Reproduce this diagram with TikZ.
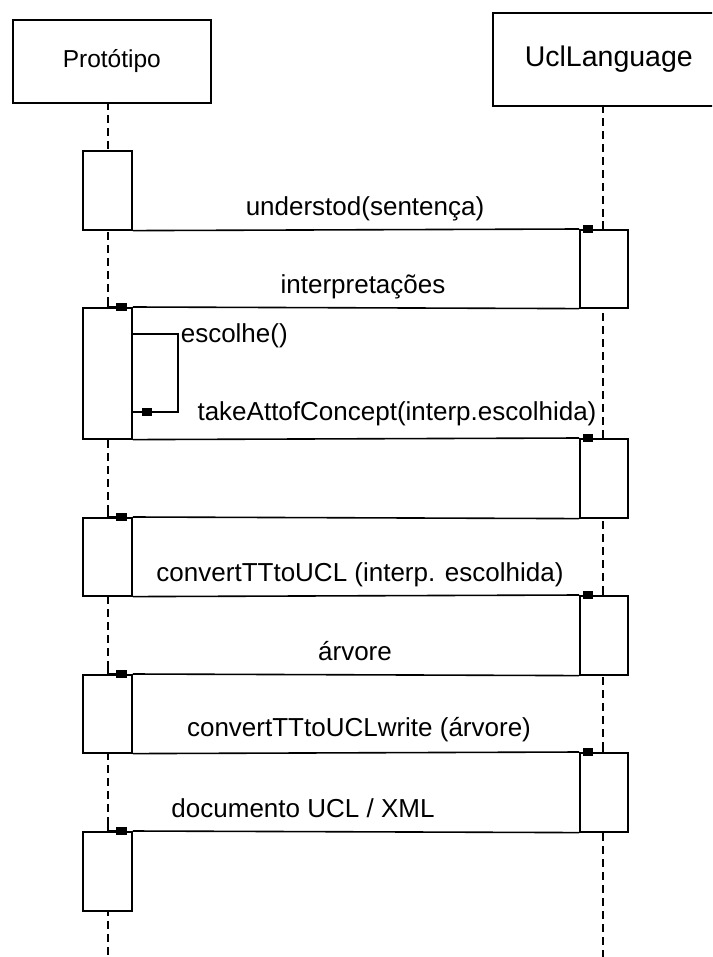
\documentclass[tikz,border=0pt]{standalone}
\usepackage{fontspec}
\setmainfont{Liberation Sans}
\begin{document}
\begin{tikzpicture}[x=1pt,y=-1pt,
  line width=1.6pt,
  head/.style={draw, fill=white, line width=1.6pt, inner sep=0pt},
  act/.style={draw, fill=white, line width=1.6pt, minimum width=49pt, inner sep=0pt, anchor=north},
  life/.style={line width=1.4pt, dash pattern=on 8pt off 5pt},
  msg/.style={line width=1.6pt},
  lbl/.style={font=\fontsize{26}{30}\selectfont, anchor=base, inner sep=0pt},
  hook/.style={line width=1.6pt}
]
\useasboundingbox (0,0) rectangle (712,957);
\clip (0,0) rectangle (712,957);
\fill[white] (0,0) rectangle (712,957);

% participants
\node[head, minimum width=198pt, minimum height=83pt, anchor=north west,
      font=\fontsize{24.5}{28}\selectfont] (proto) at (12,19) {Protótipo};
\node[head, minimum width=232pt, minimum height=93pt, anchor=north west,
      font=\fontsize{28.5}{32}\selectfont] (ucl) at (492,12) {UclLanguage};

% lifelines
\coordinate (pTop) at (108,102);
\coordinate (pEnd) at (108,957);
\coordinate (uTop) at (603,105);
\coordinate (uEnd) at (603,957);
\draw[life] (pTop) -- (pEnd);
\draw[life] (uTop) -- (uEnd);

% activation bars, Protótipo
\node[act, minimum height=79pt]  (L1) at (107.5,150) {};
\node[act, minimum height=131pt] (L2) at (107.5,307) {};
\node[act, minimum height=78pt]  (L3) at (107.5,517) {};
\node[act, minimum height=78pt]  (L4) at (107.5,674) {};
\node[act, minimum height=79pt]  (L5) at (107.5,831) {};
% activation bars, UclLanguage
\node[act, minimum width=48pt, minimum height=78pt] (R1) at (604,229) {};
\node[act, minimum width=48pt, minimum height=79pt] (R2) at (604,438) {};
\node[act, minimum width=48pt, minimum height=79pt] (R3) at (604,595) {};
\node[act, minimum width=48pt, minimum height=79pt] (R4) at (604,752) {};

% messages
\draw[msg] (L1.south east) -- (R1.north west);
\draw[msg] (R1.south west) -- (L2.north east);
\draw[msg] (L2.south east) -- (R2.north west);
\draw[msg] (R2.south west) -- (L3.north east);
\draw[msg] (L3.south east) -- (R3.north west);
\draw[msg] (R3.south west) -- (L4.north east);
\draw[msg] (L4.south east) -- (R4.north west);
\draw[msg] (R4.south west) -- (L5.north east);

% self call
\coordinate (s1) at (132,334);
\coordinate (s2) at (178,334);
\coordinate (s3) at (178,412);
\coordinate (s4) at (132,412);
\draw[msg] (s1) -- (s2) -- (s3) -- (s4);
\fill (142,408) rectangle (152,416);

% arrow marks on the receiving bars
\foreach \b in {R1,R2,R3,R4}{
  \draw[hook] ([xshift=12pt,yshift=-1pt]\b.north west) -- ([yshift=-1pt]\b.north west -| uTop)
              -- ([yshift=8pt]\b.north west -| uTop);
  \fill ([xshift=3.5pt,yshift=4pt]\b.north west) rectangle ([xshift=13.5pt,yshift=-4pt]\b.north west);
}
\foreach \b in {L2,L3,L4,L5}{
  \draw[hook] ([xshift=-12pt]\b.north east) -- (\b.north east -| pTop)
              -- ([yshift=8pt]\b.north east -| pTop);
  \fill ([xshift=-6pt,yshift=4pt]\b.north east) rectangle ([xshift=-17pt,yshift=-4pt]\b.north east);
}

% message labels
\node[lbl] (m1) at (365,216) {understod(sentença)};
\node[lbl] (m2) at (363,293) {interpretações};
\node[lbl, anchor=base west] (m3) at (180,342) {escolhe()};
\node[lbl] (m4) at (397,420) {takeAttofConcept(interp.escolhida)};
\node[lbl] (m5) at (360,581) {convertTTtoUCL (interp. escolhida)};
\node[lbl] (m6) at (355,660) {árvore};
\node[lbl] (m7) at (359,736) {convertTTtoUCLwrite (árvore)};
\node[lbl] (m8) at (303,817) {documento UCL / XML};
\end{tikzpicture}
\end{document}
